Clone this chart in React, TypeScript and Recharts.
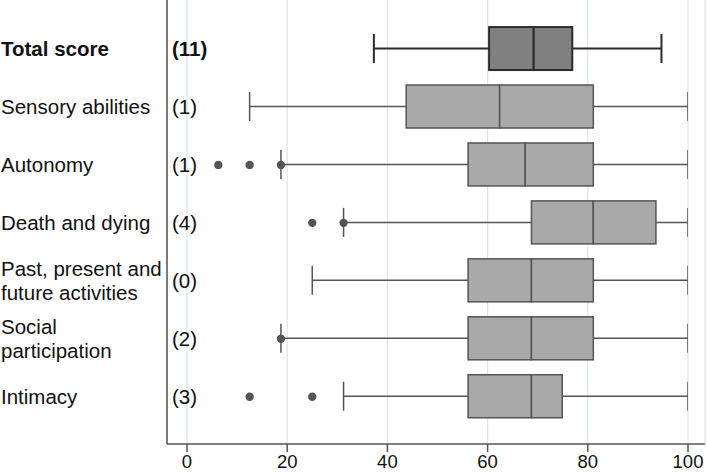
import { ComposedChart, Bar, Scatter, XAxis, YAxis, CartesianGrid } from "recharts";

// rows, top to bottom
const rows = [
  "Total score",
  "Sensory abilities",
  "Autonomy",
  "Death and dying",
  "Past, present and\nfuture activities",
  "Social\nparticipation",
  "Intimacy",
];
const counts = [11, 1, 1, 4, 0, 2, 3];

// box plot stats
const minVals = [37.3, 12.5, 18.75, 31.25, 25, 18.75, 31.25];
const q1Vals = [60.3, 43.75, 56.1, 68.75, 56.1, 56.1, 56.1];
const medVals = [69.2, 62.4, 67.5, 81.1, 68.75, 68.75, 68.75];
const q3Vals = [76.9, 81.1, 81.1, 93.6, 81.1, 81.1, 74.9];
const maxVals = [94.7, 100, 100, 100, 100, 100, 100];

// outlier dots
const outlierRows = [2, 2, 2, 3, 3, 5, 6, 6];
const outlierVals = [6.25, 12.5, 18.75, 25, 31.25, 18.75, 12.5, 25];

const xTicks = [0, 20, 40, 60, 80, 100];
const rowTicks = [0, 1, 2, 3, 4, 5, 6];

const font = "'Liberation Sans', Arial, Helvetica, sans-serif";

const data = rows.map((name, i) => ({
  row: i,
  name,
  base: minVals[i],
  lw: q1Vals[i] - minVals[i],
  b1: medVals[i] - q1Vals[i],
  b2: q3Vals[i] - medVals[i],
  uw: maxVals[i] - q3Vals[i],
}));

const outliers = outlierVals.map((v, i) => ({ value: v, row: outlierRows[i] }));

const lineColor = (i: number) => (i === 0 ? "#2b2b2b" : "#555555");
const lineWidth = (i: number) => (i === 0 ? 2 : 1.5);

const BoxPart = (props: any) => {
  const { x, y, width, height, index } = props;
  const dark = index === 0;
  return (
    <rect
      x={x}
      y={y}
      width={width}
      height={height}
      fill={dark ? "#808080" : "#a9a9a9"}
      stroke={lineColor(index)}
      strokeWidth={lineWidth(index)}
    />
  );
};

const LowWhisker = (props: any) => {
  const { x, y, width, height, index } = props;
  const cy = y + height / 2;
  return (
    <g stroke={lineColor(index)} strokeWidth={lineWidth(index)}>
      <line x1={x} x2={x + width} y1={cy} y2={cy} />
      <line x1={x} x2={x} y1={cy - 14.5} y2={cy + 14.5} />
    </g>
  );
};

const HighWhisker = (props: any) => {
  const { x, y, width, height, index } = props;
  const cy = y + height / 2;
  return (
    <g stroke={lineColor(index)} strokeWidth={lineWidth(index)}>
      <line x1={x} x2={x + width} y1={cy} y2={cy} />
      <line x1={x + width} x2={x + width} y1={cy - 14.5} y2={cy + 14.5} />
    </g>
  );
};

const RowTick = (props: any) => {
  const { y, payload } = props;
  const i = payload.value;
  const lines = rows[i].split("\n");
  const bold = i === 0;
  const lh = 24;
  return (
    <g fontFamily={font} fontSize={20.5} fill="#111" fontWeight={bold ? "bold" : "normal"}>
      <text x={1} y={y}>
        {lines.map((l, k) => (
          <tspan key={k} x={1} y={y + (k - (lines.length - 1) / 2) * lh} dy="0.355em">
            {l}
          </tspan>
        ))}
      </text>
      <text x={172} y={y} dy="0.355em">
        ({counts[i]})
      </text>
    </g>
  );
};

export default function App() {
  return (
    <div style={{ position: "absolute", left: 0, top: 0 }}>
      <ComposedChart
        width={707}
        height={473}
        data={data}
        layout="vertical"
        margin={{ top: 0, right: 2, bottom: 0, left: 0 }}
      >
        <CartesianGrid horizontal={false} stroke="#d9e6ef" strokeWidth={1.2} />
        <XAxis
          type="number"
          domain={[0, 100]}
          allowDataOverflow
          ticks={xTicks}
          padding={{ left: 20, right: 17 }}
          height={29}
          tickSize={8}
          tickMargin={3}
          axisLine={{ stroke: "#555", strokeWidth: 1.5 }}
          tickLine={{ stroke: "#555", strokeWidth: 1.5 }}
          tick={{ fontSize: 18.5, fill: "#111", fontFamily: font }}
        />
        <YAxis
          type="number"
          dataKey="row"
          domain={[-0.846, 6.816]}
          allowDataOverflow
          ticks={rowTicks}
          width={167}
          tickLine={false}
          axisLine={{ stroke: "#555", strokeWidth: 1.5 }}
          tick={<RowTick />}
        />
        <Bar dataKey="base" stackId="s" barSize={43} fill="none" isAnimationActive={false} />
        <Bar dataKey="lw" stackId="s" barSize={43} shape={<LowWhisker />} isAnimationActive={false} />
        <Bar dataKey="b1" stackId="s" barSize={43} shape={<BoxPart />} isAnimationActive={false} />
        <Bar dataKey="b2" stackId="s" barSize={43} shape={<BoxPart />} isAnimationActive={false} />
        <Bar dataKey="uw" stackId="s" barSize={43} shape={<HighWhisker />} isAnimationActive={false} />
        <Scatter
          data={outliers}
          dataKey="value"
          fill="#555"
          isAnimationActive={false}
          shape={(p: any) => <circle cx={p.cx} cy={p.cy} r={4.2} fill="#555" />}
        />
      </ComposedChart>
    </div>
  );
}
